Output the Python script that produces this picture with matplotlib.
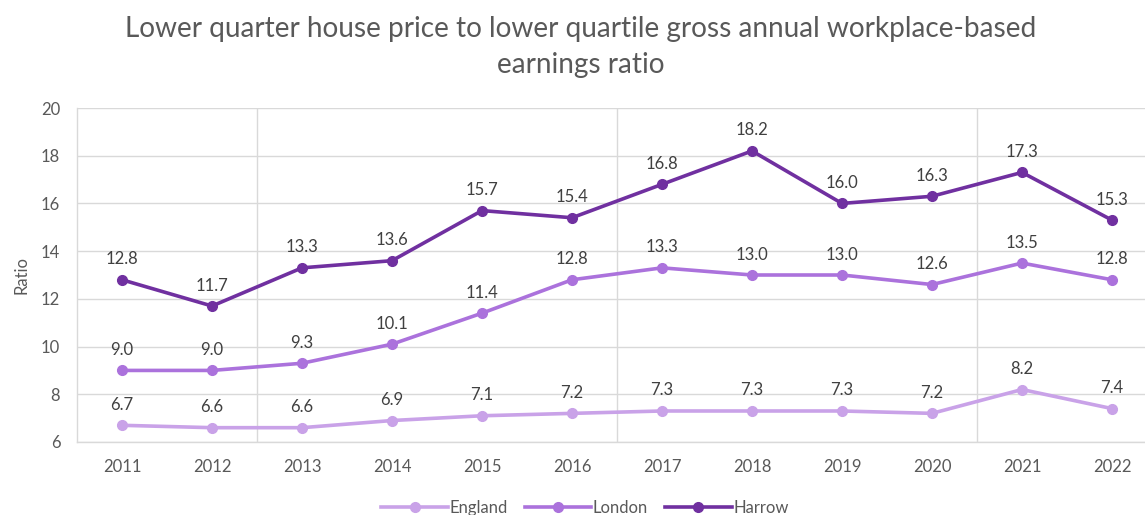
import matplotlib
matplotlib.use("Agg")
import matplotlib.pyplot as plt

years = ["2011", "2012", "2013", "2014", "2015", "2016", "2017", "2018", "2019", "2020", "2021", "2022"]
england = [6.7, 6.6, 6.6, 6.9, 7.1, 7.2, 7.3, 7.3, 7.3, 7.2, 8.2, 7.4]
london = [9.0, 9.0, 9.3, 10.1, 11.4, 12.8, 13.3, 13.0, 13.0, 12.6, 13.5, 12.8]
harrow = [12.8, 11.7, 13.3, 13.6, 15.7, 15.4, 16.8, 18.2, 16.0, 16.3, 17.3, 15.3]

plt.rcParams['font.family'] = ['Lato', 'DejaVu Sans']

fig = plt.figure(figsize=(11.45, 5.15), dpi=100)
ax = fig.add_axes([77/1145, 73/515, 1080/1145, 334/515])

series = [("England", england, "#C9A2E8"), ("London", london, "#AB72DC"), ("Harrow", harrow, "#7030A0")]
x = list(range(len(years)))
for name, vals, col in series:
    ax.plot(x, vals, color=col, lw=2.6, marker='o', ms=7, label=name, zorder=3)
    for xi, v in zip(x, vals):
        ax.annotate(f"{v:.1f}", (xi, v), xytext=(0, 9), textcoords='offset points',
                    ha='center', va='bottom', fontsize=12, color='#404040')

ax.set_xlim(-0.5, 11.5)
ax.set_ylim(6, 20)
ax.set_yticks(range(6, 21, 2))
ax.set_xticks(x)
ax.set_xticklabels(years)
ax.set_xticks([1.5, 5.5, 9.5], minor=True)
ax.grid(axis='y', which='major', color='#D9D9D9', lw=1)
ax.grid(axis='x', which='minor', color='#D9D9D9', lw=1)
ax.set_axisbelow(True)
ax.tick_params(axis='both', which='both', length=0, labelsize=12, labelcolor='#595959')
ax.tick_params(axis='x', pad=12)
ax.tick_params(axis='y', pad=12)
for s in ['top', 'right']:
    ax.spines[s].set_visible(False)
for s in ['left', 'bottom']:
    ax.spines[s].set_color('#D9D9D9')
    ax.spines[s].set_linewidth(1)
ax.set_ylabel("Ratio", fontsize=12, color='#595959', labelpad=8)

fig.text(581/1145, 1 - 47/515, "Lower quarter house price to lower quartile gross annual workplace-based\nearnings ratio",
         ha='center', va='center', fontsize=20.2, color='#595959', linespacing=1.45)

fig.legend(loc='center', bbox_to_anchor=(585/1145, 1 - 508/515), ncol=3, frameon=False,
           fontsize=12, handlelength=4, columnspacing=1.0, handletextpad=0.1,
           labelcolor='#595959')

fig.savefig("out.png", dpi=100)
